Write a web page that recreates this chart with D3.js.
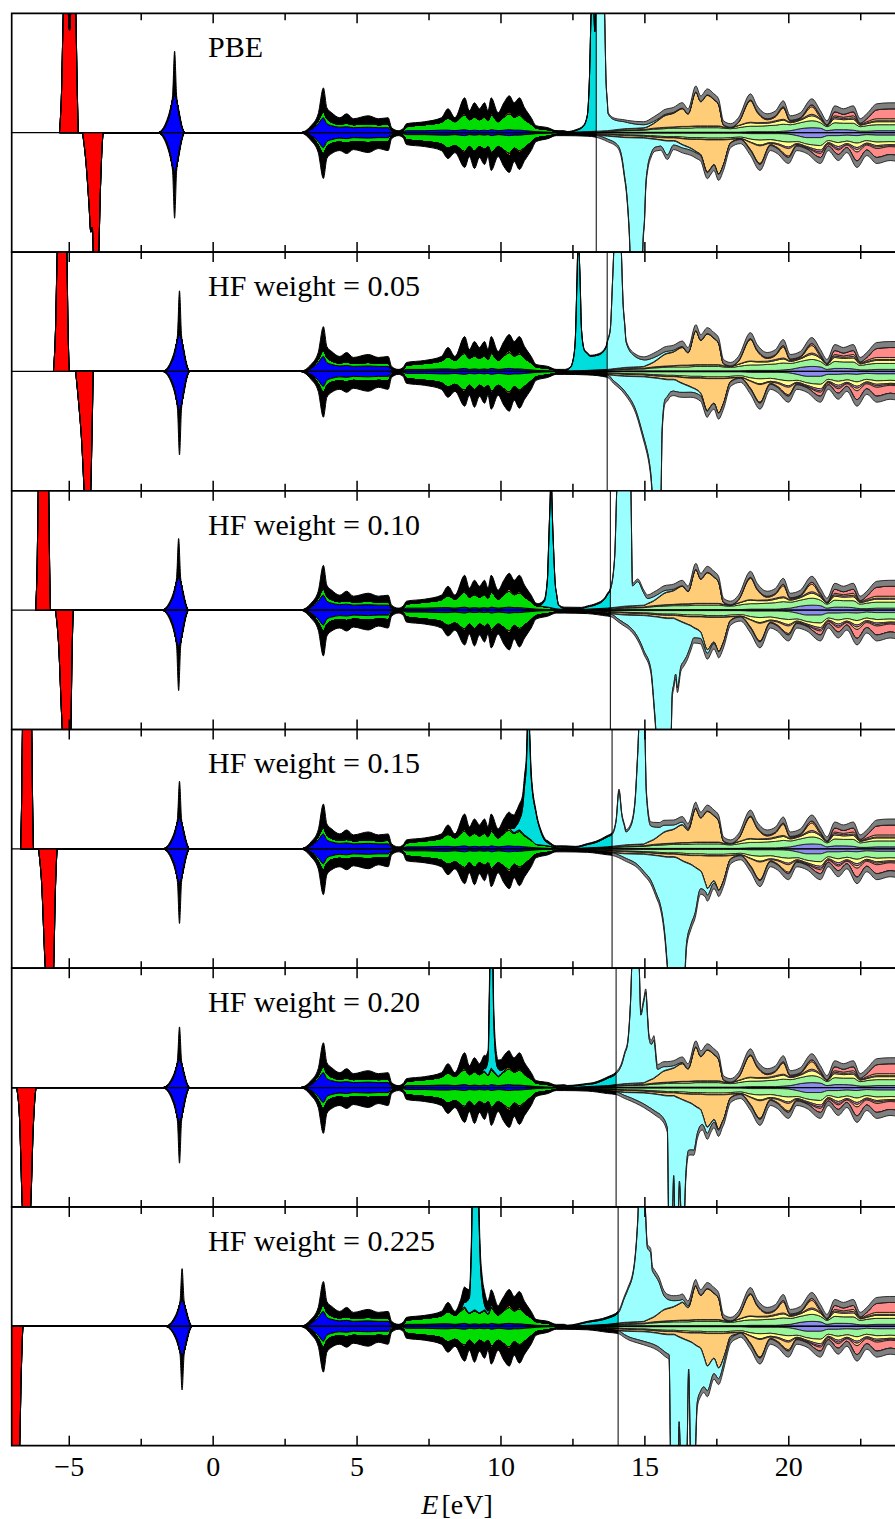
<!DOCTYPE html>
<html>
<head>
<meta charset="utf-8">
<script src="https://cdn.jsdelivr.net/npm/d3@7"></script>
<style>
  body { margin: 0; background: #fff; }
  svg { display: block; }
</style>
</head>
<body>
<svg id="chart" width="895" height="1519"></svg>
<script>
// ---------------- data ----------------
const panelLabels = ["PBE", "HF weight = 0.05", "HF weight = 0.10", "HF weight = 0.15", "HF weight = 0.20", "HF weight = 0.225"];
const fermiLevels = [13.31, 13.69, 13.80, 13.86, 14.00, 14.07];
const majorTicks = [-5, 0, 5, 10, 15, 20];
const minorTicks = [-2.5, 2.5, 7.5, 12.5, 17.5, 22.5];
const tickLabels = ["\u22125", "0", "5", "10", "15", "20"];
const layerKeys = ["blue", "green", "yellow", "magenta", "orange", "red", "cyan", "black"];

// valence band (common to all functionals)
const vbEnergy = [3.0, 3.4, 3.65, 3.83, 3.95, 4.12, 4.4, 4.64, 4.87, 5.39, 5.74, 6.08, 6.2, 6.43, 6.6, 6.72, 7.35, 7.93, 8.16, 8.4, 8.74, 8.9, 9.08, 9.25, 9.43, 9.55, 9.66, 9.9, 10.1, 10.29, 10.46, 10.64, 10.82, 11.05, 11.22, 11.63, 11.92, 12.2];
const vbBlueUp = [0, 0.3, 0.9, 1.5, 0.9, 0.7, 0.55, 0.6, 0.5, 0.55, 0.5, 0.5, 0.15, 0.05, 0.1, 0.2, 0.2, 0.25, 0.25, 0.2, 0.3, 0.2, 0.25, 0.2, 0.25, 0.2, 0.3, 0.2, 0.25, 0.3, 0.25, 0.25, 0.2, 0.15, 0.1, 0.05, 0.03, 0];
const vbGreenUp = [0, 0.05, 0.3, 0.6, 0.5, 0.35, 0.3, 0.35, 0.3, 0.35, 0.3, 0.35, 0.1, 0.05, 0.1, 0.4, 0.6, 0.8, 1.2, 0.9, 1.5, 1.1, 1.3, 1.1, 1.3, 1.0, 1.5, 0.9, 1.3, 1.6, 1.3, 1.5, 1.1, 0.7, 0.35, 0.25, 0.1, 0.05];
const vbOrangeUp = [0, 0, 0, 0, 0, 0, 0, 0, 0, 0, 0, 0, 0, 0, 0, 0, 0, 0, 0.05, 0.05, 0.15, 0.05, 0.1, 0.05, 0.1, 0.05, 0.15, 0.05, 0.1, 0.2, 0.1, 0.15, 0.1, 0.05, 0, 0, 0, 0];
const vbBlackUp = [0, 0.35, 0.7, 2.4, 1.1, 0.95, 0.65, 0.95, 0.6, 0.8, 0.6, 0.65, 0.25, 0.1, 0.2, 0.3, 0.3, 0.45, 0.9, 0.35, 1.55, 0.85, 1.35, 1.05, 1.35, 0.95, 1.55, 0.85, 1.35, 1.6, 1.35, 1.6, 1.1, 0.6, 0.25, 0.2, 0.07, 0.05];
const vbBlueDn = [0, 0.3, 0.9, 1.5, 0.9, 0.7, 0.55, 0.6, 0.5, 0.55, 0.5, 0.5, 0.15, 0.05, 0.1, 0.2, 0.2, 0.25, 0.25, 0.2, 0.3, 0.2, 0.25, 0.2, 0.25, 0.2, 0.3, 0.2, 0.25, 0.3, 0.25, 0.25, 0.2, 0.15, 0.1, 0.05, 0.03, 0];
const vbGreenDn = [0, 0.05, 0.35, 0.6, 0.55, 0.4, 0.4, 0.45, 0.4, 0.45, 0.4, 0.45, 0.15, 0.05, 0.15, 0.5, 0.7, 0.9, 1.3, 1.1, 1.6, 1.2, 1.6, 1.2, 1.4, 1.2, 1.7, 1.2, 1.5, 1.8, 1.3, 1.6, 1.3, 0.8, 0.45, 0.3, 0.15, 0.05];
const vbOrangeDn = [0, 0, 0, 0, 0, 0, 0, 0, 0, 0, 0, 0, 0, 0, 0, 0, 0, 0, 0.05, 0.05, 0.15, 0.05, 0.1, 0.05, 0.1, 0.05, 0.15, 0.05, 0.1, 0.2, 0.1, 0.15, 0.1, 0.05, 0, 0, 0, 0];
const vbBlackDn = [0, 0.45, 0.75, 2.5, 1.15, 1.0, 0.85, 1.05, 0.8, 1.0, 0.7, 0.85, 0.3, 0.2, 0.25, 0.5, 0.5, 0.65, 1.0, 0.65, 1.45, 0.95, 1.65, 1.05, 1.45, 0.95, 1.65, 0.95, 1.55, 1.7, 1.25, 1.7, 1.2, 0.8, 0.35, 0.25, 0.12, 0.1];

// conduction band background (common to all functionals)
const cbEnergyUp = [12.2, 13.0, 13.7, 14.3, 14.96, 15.3, 15.66, 16.0, 16.3, 16.5, 16.77, 16.94, 17.17, 17.4, 17.56, 17.73, 17.98, 18.25, 18.67, 18.9, 19.25, 19.54, 19.81, 20.05, 20.4, 20.8, 21.1, 21.33, 21.6, 21.9, 22.24, 22.48, 22.71, 23.06, 23.5, 24.0, 25.0];
const cbBlueUp = [0, 0.02, 0.03, 0.05, 0.05, 0.05, 0.05, 0.05, 0.05, 0.05, 0.05, 0.05, 0.05, 0.05, 0.05, 0.05, 0.05, 0.05, 0.1, 0.1, 0.1, 0.1, 0.15, 0.2, 0.4, 0.5, 0.45, 0.2, 0.3, 0.3, 0.25, 0.15, 0.15, 0.2, 0.2, 0.2, 0.2];
const cbGreenUp = [0.02, 0.04, 0.08, 0.15, 0.2, 0.3, 0.35, 0.4, 0.4, 0.4, 0.45, 0.45, 0.45, 0.45, 0.45, 0.4, 0.35, 0.45, 0.55, 0.55, 0.6, 0.65, 0.7, 0.6, 0.6, 0.7, 0.55, 0.4, 0.7, 0.65, 0.7, 0.45, 0.55, 0.6, 0.6, 0.6, 0.6];
const cbYellowUp = [0, 0.02, 0.03, 0.05, 0.05, 0.08, 0.1, 0.1, 0.15, 0.15, 0.15, 0.15, 0.15, 0.15, 0.15, 0.1, 0.1, 0.2, 0.35, 0.3, 0.25, 0.35, 0.4, 0.2, 0.25, 0.5, 0.3, 0.1, 0.4, 0.35, 0.4, 0.15, 0.2, 0.3, 0.3, 0.3, 0.3];
const cbMagentaUp = [0, 0, 0.01, 0.02, 0.02, 0.02, 0.03, 0.03, 0.03, 0.03, 0.03, 0.03, 0.03, 0.03, 0.03, 0.03, 0.02, 0.03, 0.05, 0.05, 0.08, 0.1, 0.1, 0.08, 0.08, 0.15, 0.1, 0.05, 0.15, 0.12, 0.15, 0.05, 0.08, 0.1, 0.1, 0.1, 0.1];
const cbOrangeUp = [0, 0.02, 0.05, 0.11, 0.15, 0.45, 1.12, 1.37, 1.77, 1.22, 3.37, 2.42, 3.07, 2.62, 2.12, 0.17, 0, 0.27, 2.15, 1.05, 0.27, 0.4, 1.1, 0.07, 0.07, 0.75, 0.1, 0, 0.15, 0.13, 0.2, 0.05, 0.12, 0.2, 0.2, 0.2, 0.2];
const cbRedUp = [0, 0, 0, 0.02, 0.03, 0.05, 0.05, 0.05, 0.05, 0.05, 0.05, 0.05, 0.05, 0.05, 0.05, 0.05, 0.03, 0.05, 0.1, 0.1, 0.1, 0.1, 0.15, 0.1, 0.1, 0.2, 0.2, 0.05, 0.4, 0.3, 0.4, 0.1, 0.3, 0.9, 1.0, 1.0, 1.0];
const cbBlackUp = [0.08, 0.1, 0.15, 0.2, 0.3, 0.45, 0.5, 0.5, 0.55, 0.5, 0.6, 0.55, 0.6, 0.55, 0.55, 0.4, 0.35, 0.45, 0.6, 0.55, 0.5, 0.5, 0.6, 0.45, 0.5, 0.6, 0.5, 0.4, 0.6, 0.55, 0.6, 0.45, 0.5, 0.6, 0.6, 0.6, 0.6];

const cbEnergyDn = [12.2, 13.0, 13.7, 14.3, 14.96, 15.43, 15.78, 16.0, 16.35, 16.6, 16.94, 17.17, 17.4, 17.56, 17.73, 17.98, 18.32, 18.67, 19.0, 19.36, 19.6, 19.99, 20.28, 20.63, 21.1, 21.37, 21.72, 22.02, 22.37, 22.71, 23.06, 23.52, 24.0, 25.0];
const cbBlueDn = [0, 0.02, 0.03, 0.04, 0.05, 0.05, 0.05, 0.05, 0.05, 0.05, 0.05, 0.05, 0.05, 0.05, 0.05, 0.05, 0.05, 0.1, 0.1, 0.1, 0.1, 0.15, 0.3, 0.5, 0.5, 0.3, 0.3, 0.25, 0.3, 0.2, 0.25, 0.25, 0.25, 0.25];
const cbGreenDn = [0.03, 0.08, 0.12, 0.18, 0.22, 0.3, 0.35, 0.35, 0.4, 0.45, 0.45, 0.5, 0.5, 0.5, 0.5, 0.45, 0.4, 0.55, 0.65, 0.6, 0.7, 0.8, 0.6, 0.65, 0.8, 0.5, 0.7, 0.6, 0.75, 0.6, 0.7, 0.65, 0.7, 0.7];
const cbYellowDn = [0, 0.03, 0.05, 0.06, 0.08, 0.1, 0.1, 0.1, 0.15, 0.15, 0.15, 0.15, 0.15, 0.15, 0.15, 0.15, 0.15, 0.3, 0.5, 0.3, 0.3, 0.5, 0.2, 0.25, 0.45, 0.2, 0.4, 0.25, 0.45, 0.25, 0.35, 0.3, 0.3, 0.3];
const cbMagentaDn = [0, 0.01, 0.02, 0.02, 0.02, 0.03, 0.03, 0.03, 0.03, 0.03, 0.03, 0.03, 0.03, 0.03, 0.03, 0.03, 0.03, 0.05, 0.08, 0.08, 0.1, 0.15, 0.08, 0.1, 0.2, 0.08, 0.2, 0.1, 0.2, 0.1, 0.15, 0.1, 0.1, 0.1];
const cbOrangeDn = [0, 0.05, 0.11, 0.17, 0.15, 0.19, 0.27, 0.27, 0.62, 0.87, 1.52, 3.22, 2.47, 3.42, 2.47, 0.32, 0.02, 0.7, 1.77, 0.12, 0.3, 0.75, 0.07, 0.05, 0.15, 0.07, 0.15, 0.05, 0.25, 0.1, 0.15, 0.1, 0.15, 0.15];
const cbRedDn = [0, 0.01, 0.02, 0.03, 0.03, 0.03, 0.05, 0.05, 0.05, 0.05, 0.05, 0.05, 0.05, 0.05, 0.05, 0.05, 0.05, 0.1, 0.1, 0.1, 0.1, 0.15, 0.1, 0.1, 0.4, 0.2, 0.45, 0.25, 0.9, 0.5, 0.9, 0.8, 0.9, 0.9];
const cbBlackDn = [0.12, 0.15, 0.25, 0.3, 0.35, 0.4, 0.45, 0.45, 0.5, 0.5, 0.55, 0.6, 0.55, 0.6, 0.55, 0.45, 0.4, 0.5, 0.6, 0.5, 0.5, 0.6, 0.45, 0.45, 0.6, 0.45, 0.6, 0.5, 0.65, 0.55, 0.6, 0.6, 0.6, 0.6];

// deep red level, one [E, DOS] list per functional
const redUp = [
  [[-5.34, 0], [-5.27, 4], [-5.2, 12.5], [-5.09, 15], [-4.99, 10.3], [-4.9, 15], [-4.78, 12.5], [-4.72, 4], [-4.68, 0]],
  [[-5.55, 0], [-5.48, 4], [-5.41, 12.5], [-5.3, 15], [-5.18, 15], [-5.09, 12.5], [-5.04, 4], [-4.99, 0]],
  [[-6.17, 0], [-6.12, 4], [-6.07, 12.5], [-5.9, 15], [-5.72, 12.5], [-5.68, 4], [-5.65, 0]],
  [[-6.69, 0], [-6.66, 4], [-6.62, 12.5], [-6.47, 15], [-6.31, 12.5], [-6.27, 4], [-6.24, 0]],
  [[-7.6, 0], [-7.55, 4], [-7.5, 12.5], [-7.35, 15], [-7.2, 12.5], [-7.15, 4], [-7.1, 0]],
  [[-8.0, 0], [-7.95, 4], [-7.9, 12.5], [-7.75, 15], [-7.6, 12.5], [-7.55, 4], [-7.5, 0]]
];
const redDn = [
  [[-4.54, 0], [-4.42, 3], [-4.32, 7], [-4.25, 10], [-4.2, 9.5], [-4.16, 12.5], [-4.07, 15], [-3.98, 12.5], [-3.92, 6], [-3.81, 0]],
  [[-4.78, 0], [-4.68, 3], [-4.57, 7], [-4.47, 12.5], [-4.37, 15], [-4.26, 12.5], [-4.2, 5], [-4.16, 0]],
  [[-5.48, 0], [-5.38, 3], [-5.23, 12.5], [-5.1, 15], [-4.95, 12.5], [-4.9, 4], [-4.85, 0]],
  [[-6.07, 0], [-5.97, 3], [-5.82, 12.5], [-5.68, 15], [-5.55, 12.5], [-5.48, 4], [-5.41, 0]],
  [[-6.83, 0], [-6.73, 3], [-6.62, 12.5], [-6.48, 15], [-6.35, 12.5], [-6.25, 4], [-6.14, 0]],
  [[-7.25, 0], [-7.15, 4], [-7.05, 12.5], [-6.9, 15], [-6.73, 12.5], [-6.67, 5], [-6.6, 0]]
];

// narrow level near -1 eV
const peakEnergy = [
  [-1.94, -1.76, -1.61, -1.5, -1.41, -1.34, -1.27, -1.18, -1.08, -0.98],
  [-1.77, -1.59, -1.44, -1.33, -1.24, -1.17, -1.1, -1.01, -0.91, -0.81],
  [-1.8, -1.62, -1.47, -1.36, -1.27, -1.2, -1.13, -1.04, -0.94, -0.84],
  [-1.77, -1.59, -1.44, -1.33, -1.24, -1.17, -1.1, -1.01, -0.91, -0.81],
  [-1.77, -1.59, -1.44, -1.33, -1.24, -1.17, -1.1, -1.01, -0.91, -0.81],
  [-1.68, -1.5, -1.35, -1.24, -1.15, -1.08, -1.01, -0.92, -0.82, -0.72]
];
const peakBlueUp = [
  [0, 0.25, 1.0, 2.0, 3.3, 3.8, 3.3, 1.8, 0.5, 0],
  [0, 0.24, 0.97, 1.95, 3.25, 3.7, 3.25, 1.8, 0.49, 0],
  [0, 0.22, 0.86, 1.73, 2.9, 3.3, 2.9, 1.6, 0.43, 0],
  [0, 0.2, 0.82, 1.63, 2.7, 3.1, 2.7, 1.5, 0.41, 0],
  [0, 0.18, 0.73, 1.46, 2.45, 2.8, 2.45, 1.34, 0.37, 0],
  [0, 0.17, 0.7, 1.39, 2.3, 2.7, 2.3, 1.28, 0.35, 0]
];
const peakBlackUp = [
  [0, 0.12, 0.25, 0.3, 0.4, 4.4, 0.4, 0.3, 0.15, 0],
  [0, 0.12, 0.24, 0.28, 0.4, 4.4, 0.4, 0.28, 0.16, 0],
  [0, 0.11, 0.22, 0.25, 0.36, 3.9, 0.36, 0.25, 0.14, 0],
  [0, 0.1, 0.2, 0.24, 0.34, 3.7, 0.34, 0.24, 0.14, 0],
  [0, 0.09, 0.18, 0.21, 0.3, 3.3, 0.3, 0.21, 0.12, 0],
  [0, 0.09, 0.17, 0.2, 0.29, 3.1, 0.29, 0.2, 0.12, 0]
];
const peakBlueDn = [
  [0, 0.26, 1.05, 2.1, 3.45, 4.0, 3.45, 1.9, 0.52, 0],
  [0, 0.25, 1.0, 2.0, 3.35, 3.9, 3.35, 1.85, 0.5, 0],
  [0, 0.24, 0.97, 1.95, 3.25, 3.7, 3.25, 1.8, 0.49, 0],
  [0, 0.23, 0.9, 1.8, 3.0, 3.45, 3.0, 1.65, 0.45, 0],
  [0, 0.23, 0.91, 1.82, 3.05, 3.5, 3.05, 1.67, 0.46, 0],
  [0, 0.19, 0.77, 1.54, 2.55, 2.95, 2.55, 1.41, 0.38, 0]
];
const peakBlackDn = [
  [0, 0.13, 0.26, 0.3, 0.43, 4.6, 0.43, 0.3, 0.17, 0],
  [0, 0.13, 0.25, 0.29, 0.42, 4.5, 0.42, 0.29, 0.17, 0],
  [0, 0.12, 0.24, 0.28, 0.4, 4.4, 0.4, 0.28, 0.16, 0],
  [0, 0.11, 0.23, 0.26, 0.38, 4.05, 0.38, 0.26, 0.15, 0],
  [0, 0.11, 0.23, 0.27, 0.38, 4.1, 0.38, 0.27, 0.15, 0],
  [0, 0.1, 0.19, 0.22, 0.32, 3.45, 0.32, 0.22, 0.13, 0]
];

// cyan-projected states, one [E, DOS] list per functional
const cyanUp = [
  [[12.3, 0], [12.6, 0.15], [12.85, 0.5], [13.0, 1.6], [13.07, 5], [13.14, 12.5], [13.2, 14], [13.26, 10], [13.32, 14], [13.5, 14], [13.59, 12.5], [13.65, 5], [13.72, 1.7], [13.95, 1.0], [14.4, 0.6], [14.96, 0.3], [15.5, 0.1], [16.5, 0]],
  [[12.2, 0], [12.4, 0.3], [12.5, 1.0], [12.58, 3], [12.64, 9], [12.68, 13], [12.74, 10], [12.8, 4], [12.9, 2.0], [13.1, 1.4], [13.4, 1.5], [13.65, 2.2], [13.8, 4], [13.88, 9], [13.95, 13], [14.15, 13], [14.25, 6], [14.35, 2.5], [14.6, 1.2], [15.0, 0.6], [15.6, 0.25], [16.5, 0]],
  [[11.3, 0], [11.5, 0.5], [11.62, 3], [11.7, 10], [11.74, 13], [11.8, 8], [11.9, 2], [12.0, 0.4], [12.2, 0.1], [12.8, 0.1], [13.3, 0.4], [13.6, 0.9], [13.8, 1.8], [13.95, 5], [14.05, 13], [14.5, 13], [14.57, 2.0], [14.75, 2.4], [15.09, 0.5], [15.5, 0.3], [16.3, 0]],
  [[10.3, 0], [10.5, 0.5], [10.64, 1.0], [10.75, 2.5], [10.88, 7], [10.95, 13], [11.0, 10], [11.05, 6.3], [11.22, 3.1], [11.4, 1.2], [11.55, 0.4], [11.8, 0.1], [12.6, 0.1], [13.3, 0.5], [13.86, 1.2], [14.0, 2.5], [14.1, 5.5], [14.2, 3.0], [14.34, 1.3], [14.5, 1.8], [14.65, 4], [14.75, 9], [14.82, 13], [14.98, 13], [15.05, 5], [15.2, 1.5], [15.5, 0.8], [16.0, 0.4], [16.8, 0]],
  [[9.3, 0], [9.45, 0.3], [9.55, 1.5], [9.6, 8], [9.63, 13], [9.7, 13], [9.75, 5], [9.85, 1.0], [10.0, 0.3], [10.3, 0], [11.5, 0], [12.3, 0.1], [13.2, 0.25], [13.6, 0.6], [14.0, 1.1], [14.2, 2.0], [14.4, 4.0], [14.5, 8], [14.57, 13], [14.78, 13], [14.86, 6.8], [14.95, 8], [15.03, 9.0], [15.1, 6], [15.14, 4.3], [15.22, 3.5], [15.31, 3.8], [15.44, 0.6], [15.78, 0.3], [16.5, 0]],
  [[8.6, 0], [8.75, 0.5], [8.9, 1.5], [8.97, 6], [9.02, 13], [9.2, 13], [9.27, 6], [9.35, 2.2], [9.43, 0.5], [9.6, 0.2], [10.0, 0], [12.3, 0], [13.0, 0.3], [13.7, 0.6], [14.07, 1.0], [14.4, 3.2], [14.62, 5.4], [14.75, 10], [14.8, 13], [14.97, 13], [15.09, 7.2], [15.2, 6.6], [15.26, 4.7], [15.49, 3.1], [15.66, 1.4], [15.84, 0.8], [16.2, 0.3], [16.8, 0]]
];
const cyanDn = [
  [[13.3, 0], [13.7, 0.3], [14.05, 0.8], [14.2, 2.0], [14.34, 4.8], [14.45, 9], [14.51, 12.5], [14.9, 12.5], [14.95, 9.5], [14.98, 8.5], [15.03, 4.8], [15.1, 2.8], [15.2, 1.6], [15.35, 0.8], [15.55, 0.6], [15.78, 1.4], [16.0, 0.4], [16.3, 0.3], [16.8, 0.1], [17.3, 0]],
  [[13.7, 0], [13.9, 0.5], [14.3, 1.5], [14.7, 3.5], [15.0, 6.5], [15.2, 9.5], [15.3, 12.5], [15.55, 12.5], [15.6, 5], [15.7, 2], [15.9, 1.2], [16.2, 1.0], [16.6, 0.5], [17.2, 0]],
  [[13.8, 0], [14.1, 0.5], [14.4, 1.0], [14.86, 2.8], [15.2, 5.2], [15.35, 10], [15.42, 12.5], [15.9, 12.5], [15.95, 7.5], [16.07, 5.5], [16.13, 6.8], [16.25, 4.5], [16.48, 3.0], [16.7, 1.0], [17.0, 0.5], [17.5, 0]],
  [[13.86, 0], [14.3, 0.4], [14.8, 1.2], [15.2, 2.5], [15.5, 4.5], [15.7, 8], [15.83, 12.5], [16.35, 12.5], [16.45, 8], [16.6, 6], [16.75, 4.5], [16.9, 2.0], [17.1, 0.8], [17.5, 0]],
  [[14.0, 0], [14.4, 0.4], [14.96, 1.1], [15.55, 2.0], [15.78, 3.2], [15.83, 12.5], [15.95, 12.5], [16.0, 8.0], [16.05, 12.5], [16.15, 12.5], [16.2, 8.3], [16.28, 12.5], [16.35, 12.5], [16.42, 7.5], [16.52, 4.8], [16.7, 4.5], [16.82, 2.6], [17.0, 1.0], [17.3, 0.3], [17.7, 0]],
  [[14.07, 0], [14.4, 0.5], [14.74, 0.8], [15.43, 1.3], [15.84, 2.0], [15.9, 12.5], [16.15, 12.5], [16.19, 8.5], [16.25, 12.5], [16.45, 12.5], [16.52, 2.8], [16.6, 12.5], [16.72, 12.5], [16.82, 5.6], [17.05, 3.0], [17.4, 1.5], [17.8, 0.4], [18.2, 0]]
];

// ---------------- styles ----------------
const occupiedFill = { blue: "#0000ff", green: "#00dd00", yellow: "#ffff00", magenta: "#ff00ff", orange: "#ff9900", red: "#ff0000", cyan: "#00dddd", black: "#000000" };
const emptyFill = { blue: "#8c8cf0", green: "#9af59a", yellow: "#ffff8c", magenta: "#f08cf0", orange: "#ffcc77", red: "#ff8a8a", cyan: "#9bffff", black: "#808080" };
const serif = "'Liberation Serif', 'Times New Roman', serif";

// ---------------- layout ----------------
const svg = d3.select("#chart");
const left = 11.7, right = 932.7, top0 = 13.3, panelH = 238.73;
const x = d3.scaleLinear().domain([-7, 25]).range([left, right]);
const defs = svg.append("defs");

const zip = (energy, values) => energy.map((e, i) => [e, values[i]]);
const bisectE = d3.bisector(d => d[0]).left;

// piecewise-linear density of one contribution at energy e (zero outside its range)
function densityAt(pts, e) {
  const n = pts.length;
  if (!n || e < pts[0][0] || e > pts[n - 1][0]) return 0;
  const i = bisectE(pts, e);
  if (pts[i][0] === e) return pts[i][1];
  const a = pts[i - 1], b = pts[i];
  return a[1] + (b[1] - a[1]) * (e - a[0]) / (b[0] - a[0]);
}

function contributions(p, up) {
  const list = [];
  const add = (key, pts) => list.push({ key, pts });
  add("blue", zip(vbEnergy, up ? vbBlueUp : vbBlueDn));
  add("green", zip(vbEnergy, up ? vbGreenUp : vbGreenDn));
  add("orange", zip(vbEnergy, up ? vbOrangeUp : vbOrangeDn));
  add("black", zip(vbEnergy, up ? vbBlackUp : vbBlackDn));
  const cbE = up ? cbEnergyUp : cbEnergyDn;
  add("blue", zip(cbE, up ? cbBlueUp : cbBlueDn));
  add("green", zip(cbE, up ? cbGreenUp : cbGreenDn));
  add("yellow", zip(cbE, up ? cbYellowUp : cbYellowDn));
  add("magenta", zip(cbE, up ? cbMagentaUp : cbMagentaDn));
  add("orange", zip(cbE, up ? cbOrangeUp : cbOrangeDn));
  add("red", zip(cbE, up ? cbRedUp : cbRedDn));
  add("black", zip(cbE, up ? cbBlackUp : cbBlackDn));
  add("red", up ? redUp[p] : redDn[p]);
  add("blue", zip(peakEnergy[p], up ? peakBlueUp[p] : peakBlueDn[p]));
  add("black", zip(peakEnergy[p], up ? peakBlackUp[p] : peakBlackDn[p]));
  add("cyan", up ? cyanUp[p] : cyanDn[p]);
  return list;
}

function stackFor(p, up) {
  const list = contributions(p, up);
  const energies = Array.from(new Set(list.flatMap(c => c.pts.map(d => d[0])))).sort((a, b) => a - b);
  const rows = energies.map(e => {
    const row = { E: e };
    layerKeys.forEach(k => row[k] = 0);
    list.forEach(c => { row[c.key] += densityAt(c.pts, e); });
    return row;
  });
  return d3.stack().keys(layerKeys)(rows);
}

panelLabels.forEach((label, p) => {
  const yTop = top0 + p * panelH, yBot = yTop + panelH;
  const y = d3.scaleLinear().domain([-12, 12]).range([yBot, yTop]);
  const ef = x(fermiLevels[p]);
  const g = svg.append("g");

  defs.append("clipPath").attr("id", "occ" + p).append("rect")
    .attr("x", left).attr("y", yTop).attr("width", ef - left).attr("height", panelH);
  defs.append("clipPath").attr("id", "emp" + p).append("rect")
    .attr("x", ef).attr("y", yTop).attr("width", right - ef).attr("height", panelH);

  [true, false].forEach(up => {
    const sign = up ? 1 : -1;
    const series = stackFor(p, up);
    const area = d3.area()
      .curve(d3.curveMonotoneX)
      .x(d => x(d.data.E))
      .y0(d => y(sign * d[0]))
      .y1(d => y(sign * d[1]));
    [["occ", occupiedFill, "#000", 1.0], ["emp", emptyFill, "#1e1e1e", 0.9]].forEach(([clip, fills, stroke, sw]) => {
      g.append("g").attr("clip-path", `url(#${clip}${p})`)
        .selectAll("path").data(series).join("path")
        .attr("d", area)
        .attr("fill", s => fills[s.key])
        .attr("stroke", stroke)
        .attr("stroke-width", sw)
        .attr("stroke-linejoin", "round");
    });
  });

  // zero line
  g.append("line").attr("x1", left).attr("x2", right)
    .attr("y1", y(0)).attr("y2", y(0))
    .attr("stroke", "#000").attr("stroke-width", 1.4);

  // Fermi level
  g.append("line").attr("x1", ef).attr("x2", ef)
    .attr("y1", yTop).attr("y2", yBot)
    .attr("stroke", "#000").attr("stroke-width", 1);

  // frame
  g.append("path")
    .attr("d", `M${right},${yTop}H${left}V${yBot}H${right}`)
    .attr("fill", "none").attr("stroke", "#000").attr("stroke-width", 1.7);

  // inward ticks on top and bottom edges
  const ticks = majorTicks.map(v => ({ v, len: 10 })).concat(minorTicks.map(v => ({ v, len: 7 })));
  g.selectAll("line.tt").data(ticks).join("line").attr("class", "tt")
    .attr("x1", d => x(d.v)).attr("x2", d => x(d.v))
    .attr("y1", yTop).attr("y2", d => yTop + d.len)
    .attr("stroke", "#000").attr("stroke-width", 1.5);
  g.selectAll("line.tb").data(ticks).join("line").attr("class", "tb")
    .attr("x1", d => x(d.v)).attr("x2", d => x(d.v))
    .attr("y1", yBot).attr("y2", d => yBot - d.len)
    .attr("stroke", "#000").attr("stroke-width", 1.5);

  g.append("text")
    .attr("x", 208).attr("y", yTop + 44)
    .attr("font-family", serif).attr("font-size", 30)
    .attr("fill", "#000")
    .text(label);
});

// x-axis labels
const bottom = top0 + 6 * panelH;
svg.append("g").selectAll("text").data(majorTicks).join("text")
  .attr("x", d => x(d)).attr("y", bottom + 30)
  .attr("text-anchor", "middle")
  .attr("font-family", serif).attr("font-size", 28)
  .text((d, i) => tickLabels[i]);

const axisTitle = svg.append("text")
  .attr("x", 457).attr("y", bottom + 68)
  .attr("text-anchor", "middle")
  .attr("font-family", serif).attr("font-size", 28);
axisTitle.append("tspan").attr("font-style", "italic").text("E");
axisTitle.append("tspan").attr("dx", 3).text("[eV]");
</script>
</body>
</html>
